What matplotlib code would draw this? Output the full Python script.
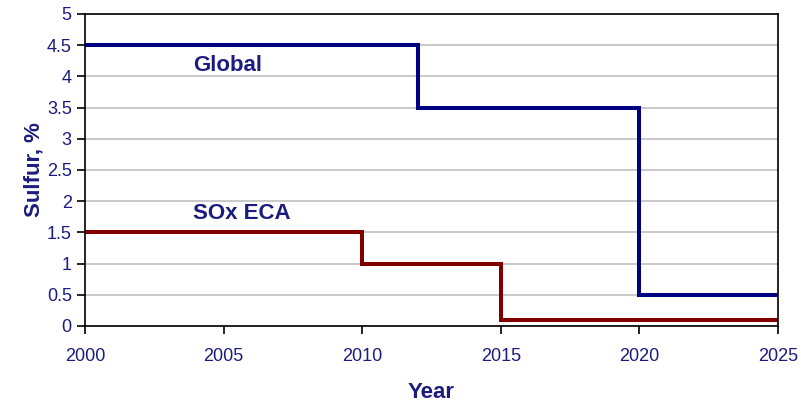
import numpy as np
import matplotlib
matplotlib.use("Agg")
from matplotlib import pyplot as plt

plt.rcParams['font.family'] = ['Liberation Sans', 'DejaVu Sans']

# podatki: meje vsebnosti zvepla
leta_global = [2000, 2012, 2020, 2025]
global_sulfur = [4.5, 3.5, 0.5, 0.5]
leta_eca = [2000, 2010, 2015, 2025]
eca_sulfur = [1.5, 1.0, 0.1, 0.1]

tekst_barva = "#1c1c80"

fig = plt.figure(figsize=(8.01, 4.12), dpi=100)
ax = fig.add_axes([85/801, 1-326/412, (778-85)/801, (326-14)/412])

ax.step(leta_global, global_sulfur, where="post", color="#000080", linewidth=2.9, solid_joinstyle="miter")
ax.step(leta_eca, eca_sulfur, where="post", color="#800000", linewidth=2.9, solid_joinstyle="miter")

ax.text(2003.9, 4.17, "Global", color=tekst_barva, fontsize=16, fontweight="bold", va="center")
ax.text(2003.9, 1.81, "SOx ECA", color=tekst_barva, fontsize=16, fontweight="bold", va="center")

ax.set_xlim(2000, 2025)
ax.set_ylim(0, 5)
ax.set_xticks(np.arange(2000, 2026, 5))
ax.set_yticks(np.arange(0, 5.01, 0.5))
ax.set_yticklabels(["0", "0.5", "1", "1.5", "2", "2.5", "3", "3.5", "4", "4.5", "5"])
ax.yaxis.grid(True, color="#c0c0c0", linewidth=1.2)
ax.set_axisbelow(True)
ax.tick_params(axis="both", direction="out", length=6, width=1.2, colors="black",
               labelcolor=tekst_barva, labelsize=13)
ax.tick_params(axis="x", pad=10)
for s in ax.spines.values():
    s.set_linewidth(1.2)
    s.set_color("black")

ax.set_xlabel("Year", color=tekst_barva, fontsize=16, fontweight="bold", labelpad=12)
ax.set_ylabel("Sulfur, %", color=tekst_barva, fontsize=16, fontweight="bold", labelpad=2)

fig.savefig("out.png", dpi=100)
